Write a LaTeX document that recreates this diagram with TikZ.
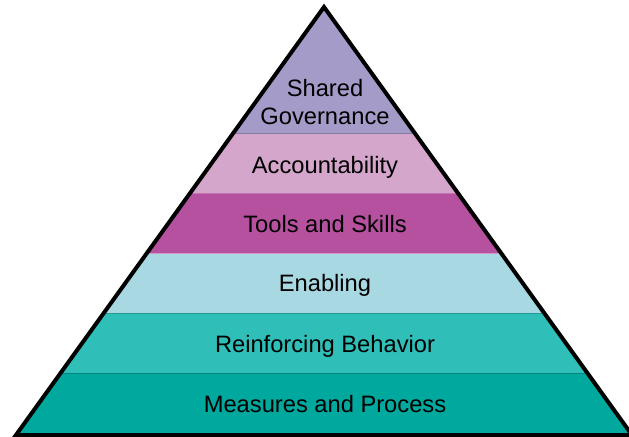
\documentclass[tikz,border=0pt]{standalone}
\usepackage{fontspec}
\setmainfont{Liberation Sans}
\definecolor{cShared}{RGB}{165,155,200}
\definecolor{cAcc}{RGB}{212,166,203}
\definecolor{cTools}{RGB}{181,81,158}
\definecolor{cEnab}{RGB}{168,216,226}
\definecolor{cReinf}{RGB}{47,191,184}
\definecolor{cMeas}{RGB}{0,168,157}
\begin{document}
\begin{tikzpicture}[x=1bp,y=-1bp,
  band/.style={line width=0.7bp},
  lbl/.style={font=\fontsize{23.7bp}{28bp}\selectfont, text=black, inner sep=0pt, anchor=base}]
\useasboundingbox (0,0) rectangle (629,437);
\coordinate (apex) at (324,7);
\coordinate (bl) at (16,435);
\coordinate (br) at (632,435);
\begin{scope}
  \clip (apex) -- (bl) -- (br) -- cycle;
  \fill[cShared] (0,0) rectangle (640,133);
  \fill[cAcc] (0,133) rectangle (640,193);
  \fill[cTools] (0,193) rectangle (640,253);
  \fill[cEnab] (0,253) rectangle (640,313);
  \fill[cReinf] (0,313) rectangle (640,373);
  \fill[cMeas] (0,373) rectangle (640,440);
  \draw[band, cShared!80!black] (0,133) -- (640,133);
  \draw[band, cTools!80!white] (0,193) -- (640,193);
  \draw[band, cTools!60!white] (0,253) -- (640,253);
  \draw[band, cReinf!80!black] (0,313) -- (640,313);
  \draw[band, cMeas!80!black] (0,373) -- (640,373);
\end{scope}
\draw[line width=4bp, black, line join=miter] (apex) -- (bl) -- (br) -- cycle;
\node[lbl] (shared) at (325,97) {Shared};
\node[lbl] (gov) at (325,125) {Governance};
\node[lbl] (acc) at (325,174) {Accountability};
\node[lbl] (tools) at (325,233) {Tools and Skills};
\node[lbl] (enab) at (325,292) {Enabling};
\node[lbl] (reinf) at (325,352) {Reinforcing Behavior};
\node[lbl] (meas) at (325,412) {Measures and Process};
\end{tikzpicture}
\end{document}
